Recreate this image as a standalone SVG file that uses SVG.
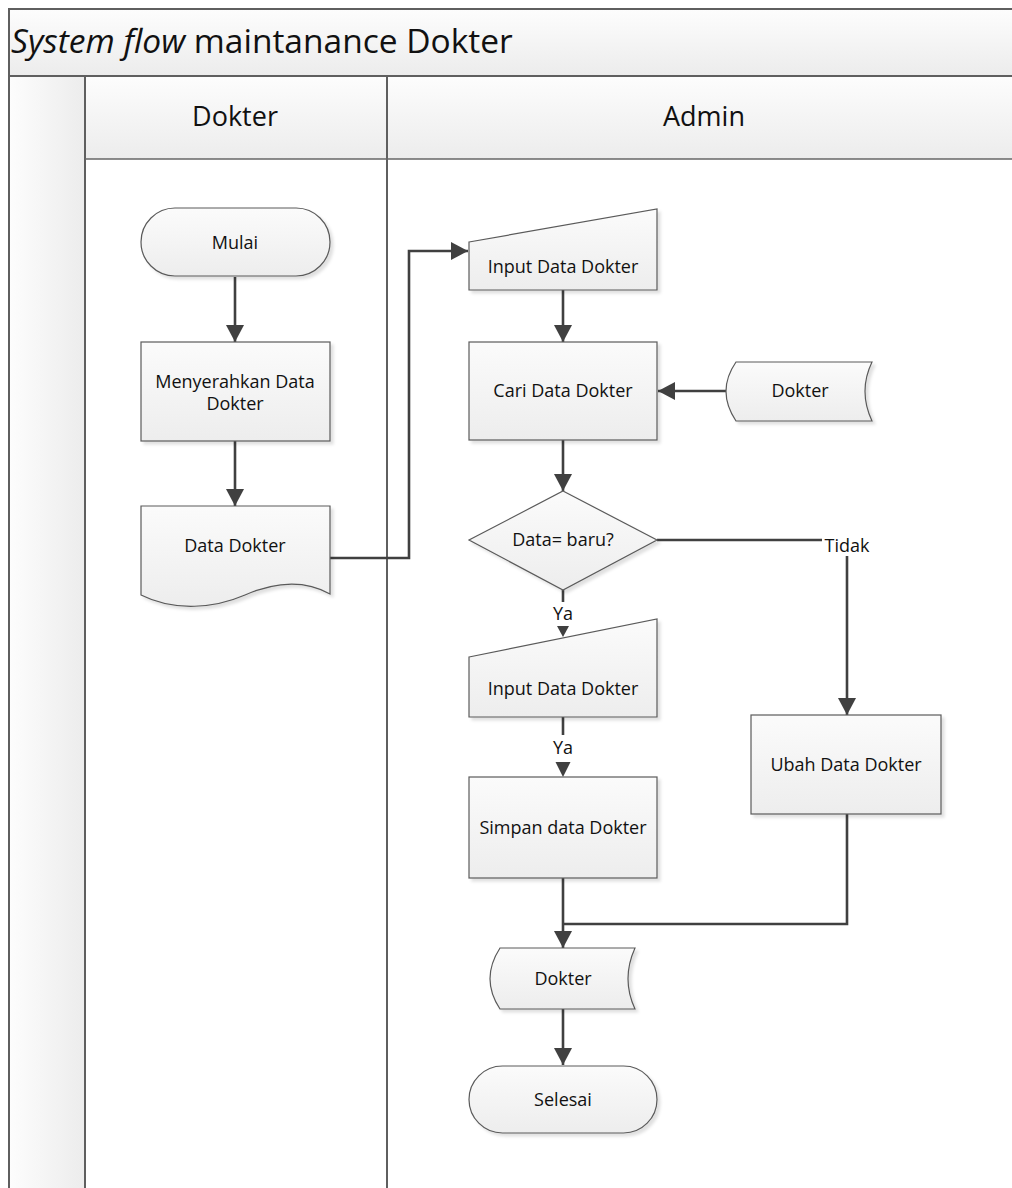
<svg xmlns="http://www.w3.org/2000/svg" width="1012" height="1188" viewBox="0 0 1012 1188">
<defs>
<linearGradient id="gv" x1="0" y1="0" x2="0" y2="1"><stop offset="0" stop-color="#fdfdfd"/><stop offset="1" stop-color="#ececec"/></linearGradient>
<linearGradient id="gh" x1="0" y1="0" x2="1" y2="0"><stop offset="0" stop-color="#fdfdfd"/><stop offset="1" stop-color="#ececec"/></linearGradient>
<linearGradient id="gn" x1="0" y1="0" x2="0" y2="1"><stop offset="0" stop-color="#fbfbfb"/><stop offset="1" stop-color="#ededed"/></linearGradient>
<filter id="sh" x="-10%" y="-10%" width="130%" height="130%"><feDropShadow dx="3" dy="3" stdDeviation="1.5" flood-color="#000" flood-opacity="0.12"/></filter>
<marker id="ah" markerUnits="userSpaceOnUse" markerWidth="18" markerHeight="18" viewBox="0 0 18 18" refX="17" refY="9" orient="auto"><path d="M0,0 L17,9 L0,18 Z" fill="#404040"/></marker>
</defs>
<style>
.frame{stroke:#5f5f5f;stroke-width:2;fill:none}
.node{fill:url(#gn);stroke:#5a5a5a;stroke-width:1.2;filter:url(#sh)}
.t{font-family:"Open Sans","Noto Sans",sans-serif;font-size:18px;fill:#111;text-anchor:middle}
.hd{font-family:"Open Sans","Noto Sans",sans-serif;font-size:27px;fill:#111;text-anchor:middle}
.ti{font-family:"Open Sans","Noto Sans",sans-serif;font-size:33.5px;fill:#111}
.c{stroke:#404040;stroke-width:2.6;fill:none}
.ca{stroke:#404040;stroke-width:2.6;fill:none;marker-end:url(#ah)}
.hd2{fill:#404040}
</style>
<rect width="1012" height="1188" fill="#fff"/>
<g id="pool">
<rect x="9" y="9" width="1010" height="67" fill="url(#gv)"/>
<rect x="9" y="76" width="76" height="1120" fill="url(#gh)"/>
<rect x="85" y="76" width="930" height="83" fill="url(#gv)"/>
<path class="frame" d="M9,1190 V9 H1014 M9,76 H1014 M85,76 V1190 M387,76 V1190"/>
<path d="M85,159 H1014" stroke="#666" stroke-width="1.5"/>
<text class="ti" x="11" y="53"><tspan font-style="italic">System flow</tspan> maintanance Dokter</text>
<text class="hd" x="235" y="126">Dokter</text>
<text class="hd" x="704" y="126">Admin</text>
</g>
<g id="connectors">
<path class="ca" d="M235,277 V342"/>
<path class="ca" d="M235,441 V506"/>
<path class="ca" d="M330,558 H409 V251 H468"/>
<path class="ca" d="M563,290 V342"/>
<path class="ca" d="M726,391 H658"/>
<path class="ca" d="M563,440 V491"/>
<path class="c" d="M657,540 H822"/>
<path class="ca" d="M847,556 V715"/>
<path class="c" d="M563,590 V602"/>
<path class="hd2" d="M557,626 H569 L563,637 Z"/>
<path class="c" d="M563,717 V735"/>
<path class="hd2" d="M555.5,762 H570.5 L563,777 Z"/>
<path class="c" d="M847,814 V924 H563"/>
<path class="ca" d="M563,878 V948"/>
<path class="ca" d="M563,1009 V1065"/>
<text class="t" x="847" y="552">Tidak</text>
<text class="t" x="563" y="620">Ya</text>
<text class="t" x="563" y="754">Ya</text>
</g>
<g id="mulai">
<rect class="node" x="141" y="208" width="189" height="68" rx="34" ry="34"/>
<text class="t" x="235" y="249">Mulai</text>
</g>
<g id="menyerahkan">
<rect class="node" x="141" y="342" width="189" height="99"/>
<text class="t" x="235" y="388">Menyerahkan Data</text>
<text class="t" x="235" y="410">Dokter</text>
</g>
<g id="data-dokter">
<path class="node" d="M141,506 H330 V594 C305,580 275,582 245,595 C215,608 175,612 141,595 Z"/>
<text class="t" x="235" y="552">Data Dokter</text>
</g>
<g id="input1">
<path class="node" d="M469,242 L657,209 V290 H469 Z"/>
<text class="t" x="563" y="273">Input Data Dokter</text>
</g>
<g id="cari">
<rect class="node" x="469" y="342" width="188" height="98"/>
<text class="t" x="563" y="397">Cari Data Dokter</text>
</g>
<g id="dokter-store1">
<path class="node" d="M736,362 H872 Q858,391 872,421 H736 Q716,391 736,362 Z"/>
<text class="t" x="800" y="397">Dokter</text>
</g>
<g id="decision">
<path class="node" d="M563,491 L657,540 L563,590 L469,540 Z"/>
<text class="t" x="563" y="546">Data= baru?</text>
</g>
<g id="input2">
<path class="node" d="M469,657 L657,619 V717 H469 Z"/>
<text class="t" x="563" y="695">Input Data Dokter</text>
</g>
<g id="simpan">
<rect class="node" x="469" y="777" width="188" height="101"/>
<text class="t" x="563" y="834">Simpan data Dokter</text>
</g>
<g id="ubah">
<rect class="node" x="751" y="715" width="190" height="99"/>
<text class="t" x="846" y="771">Ubah Data Dokter</text>
</g>
<g id="dokter-store2">
<path class="node" d="M500,948 H635 Q621,979 635,1009 H500 Q480,979 500,948 Z"/>
<text class="t" x="563" y="985">Dokter</text>
</g>
<g id="selesai">
<rect class="node" x="469" y="1066" width="188" height="67" rx="33.5" ry="33.5"/>
<text class="t" x="563" y="1106">Selesai</text>
</g>
</svg>
